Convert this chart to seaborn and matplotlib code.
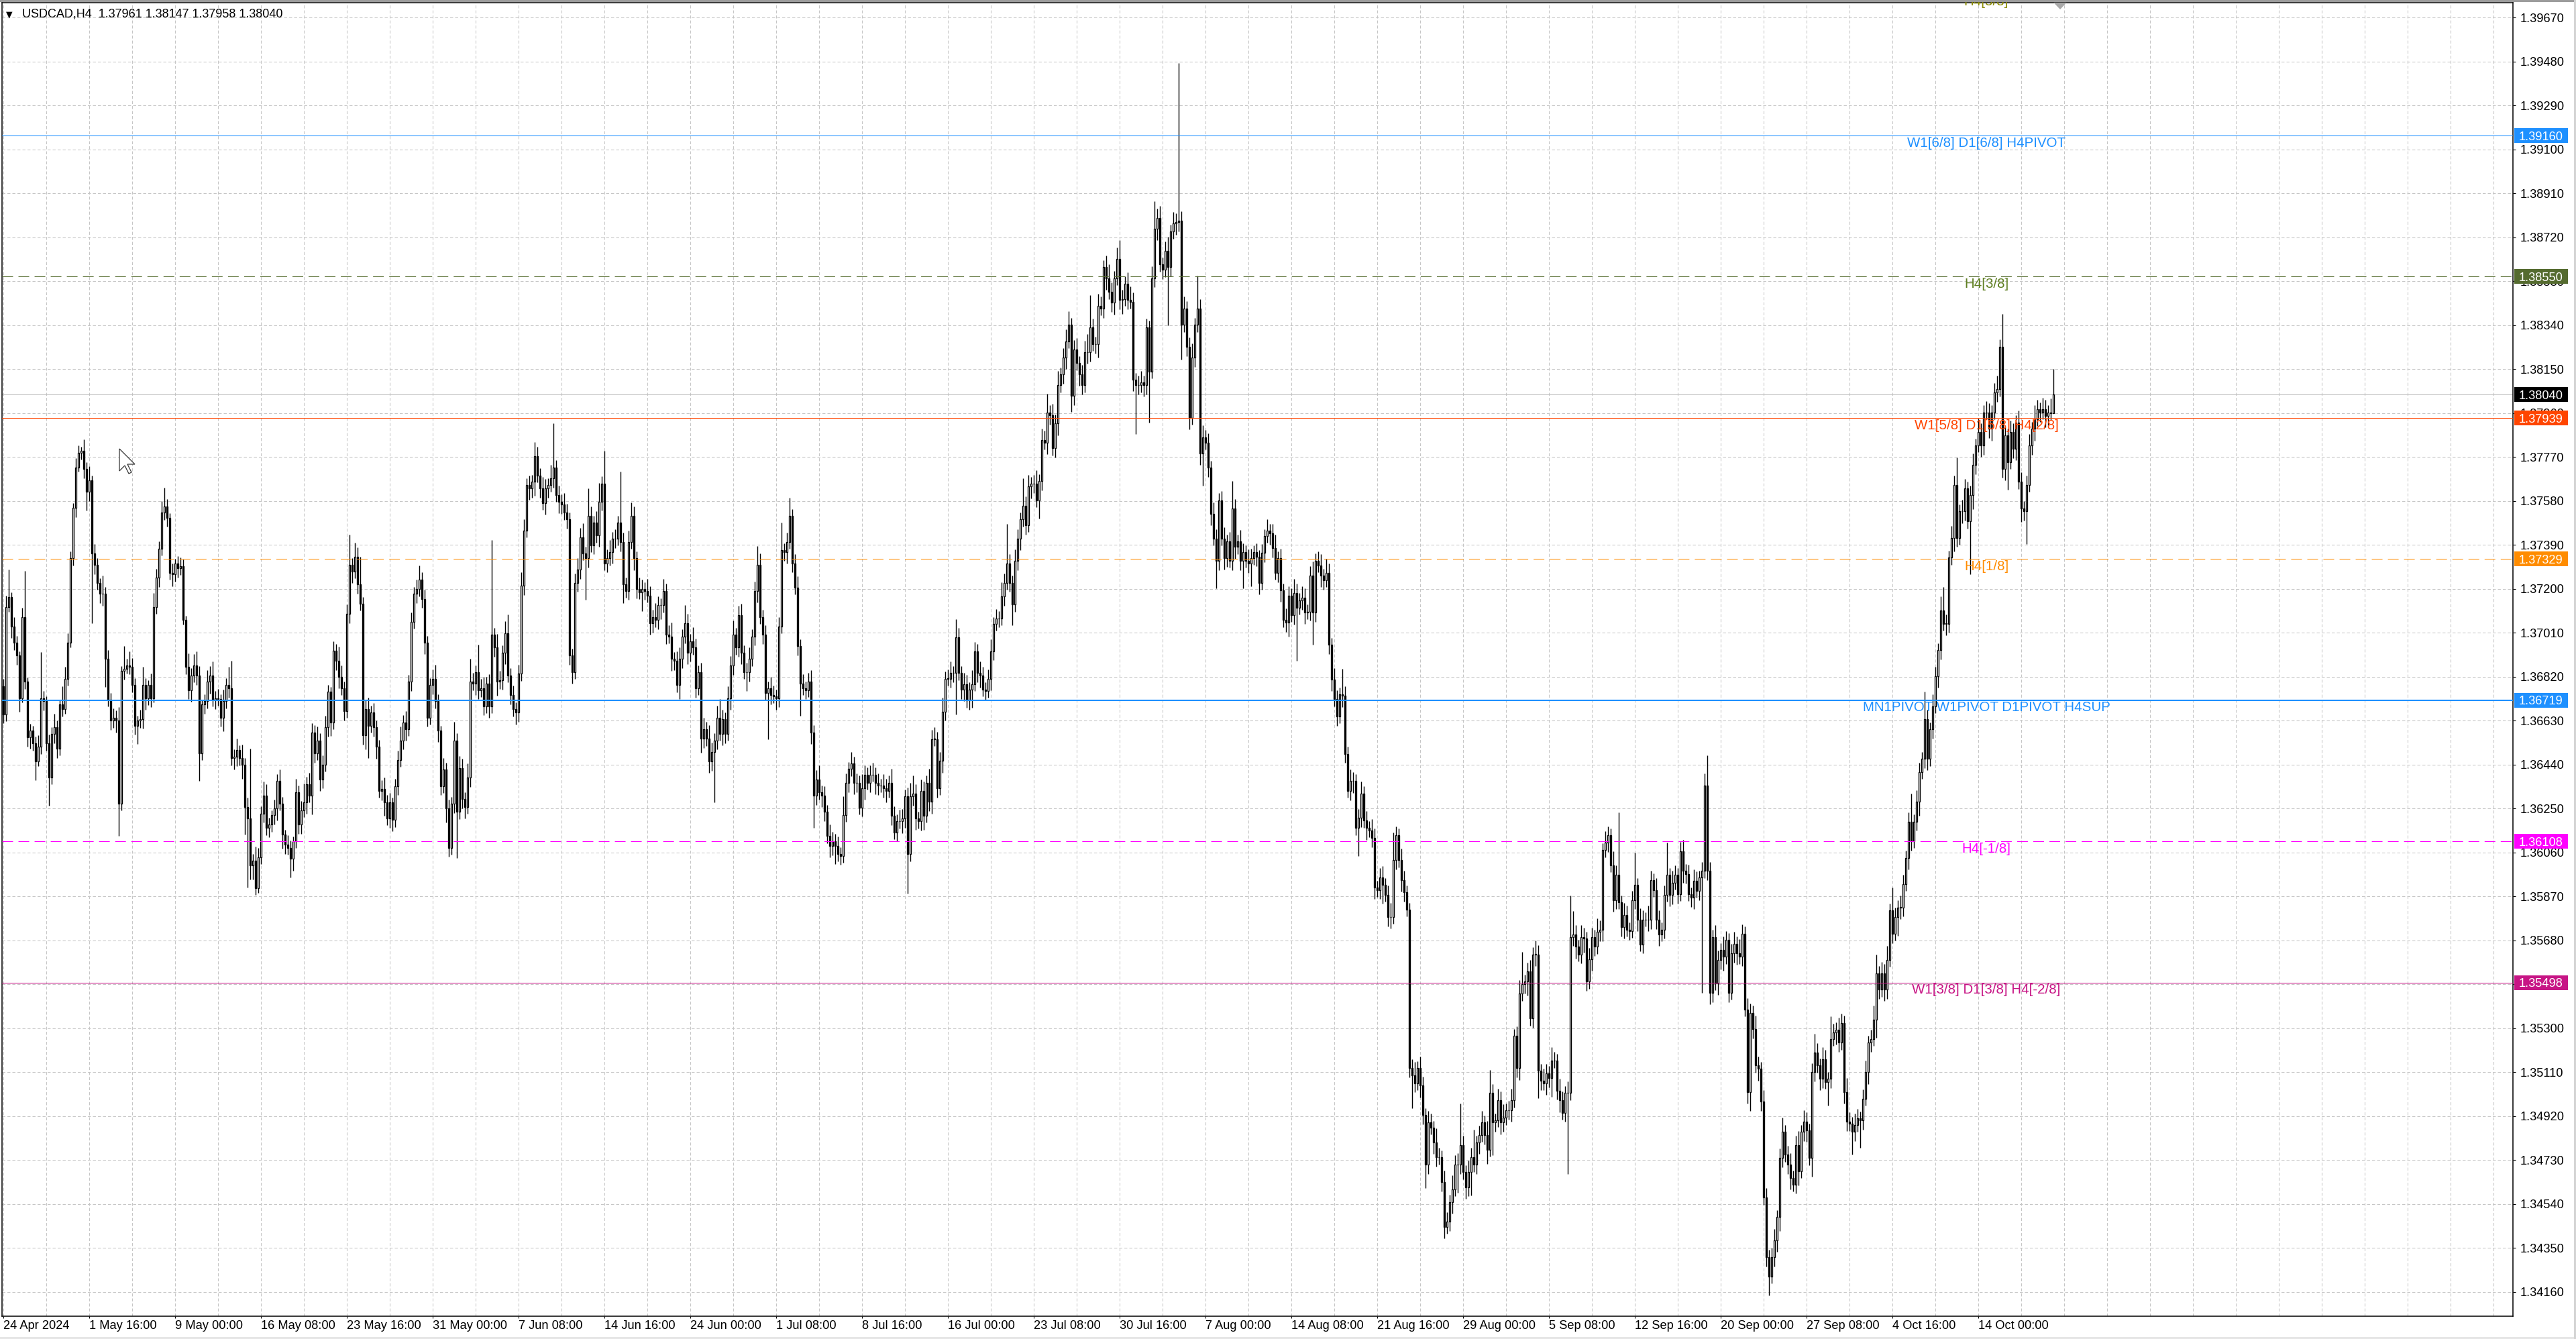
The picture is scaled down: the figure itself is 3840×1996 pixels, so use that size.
import numpy as np
import pandas as pd
import matplotlib
matplotlib.use("Agg")
import matplotlib.pyplot as plt
from matplotlib import font_manager as fm
from matplotlib.patches import Rectangle, Polygon
import seaborn as sns

# ==========================================
# DATA (USDCAD H4, prices as 1.3 + value/1e5, wicks in pips)
# ==========================================
first_open = 6780

# 24 Apr -> end of May
close_1 = [
    6658, 7122, 7164, 7037, 6967, 6911, 6728, 7079, 6798, 6559, 6587, 6531, 6454, 6517, 6728, 6714, 6531, 6384, 6573, 6601,
    6510, 6700, 6679, 6812, 6967, 7332, 7550, 7726, 7789, 7796, 7719, 7620, 7670, 7353, 7304, 7227, 7178, 7178, 6897, 6721,
    6630, 6644, 6630, 6271, 6847, 6854, 6869, 6862, 6784, 6609, 6630, 6637, 6784, 6728, 6784, 6728, 7122, 7248, 7375, 7529,
    7557, 7508, 7269, 7262, 7311, 7290, 7297, 7065, 6862, 6763, 6826, 6869, 6826, 6489, 6700, 6714, 6798, 6826, 6721, 6728,
    6725, 6644, 6714, 6784, 6770, 6468, 6475, 6503, 6468, 6440, 6257, 6208, 6004, 6025, 5906, 6039, 6229, 6306, 6166, 6180,
    6222, 6250, 6370, 6271, 6138, 6095, 6081, 6032, 6110, 6320, 6180, 6243, 6278, 6356, 6306, 6580, 6489, 6545, 6377, 6440,
    6601, 6756, 6623, 6932, 6890, 6819, 6770, 6672, 7093, 7304, 7276, 7339, 7220, 7136, 6566, 6679, 6609, 6665, 6601, 6517,
    6327, 6334, 6278, 6208, 6278, 6201, 6348, 6461, 6545, 6623, 6594, 6798, 7058, 7178, 7199, 7241, 7157, 6967, 6644,
]
wick_up_1 = [
    3, 5, 12, 2, 4, 3, 2, 4, 20, 2, 3, 2, 3, 5, 20, 3, 2, 4, 3, 6,
    3, 2, 8, 5, 4, 3, 2, 4, 3, 2, 5, 3, 6, 2, 4, 3, 2, 8, 3, 4,
    3, 4, 3, 6, 2, 10, 3, 6, 4, 3, 2, 4, 8, 3, 2, 5, 6, 4, 3, 5,
    8, 3, 2, 4, 2, 3, 4, 3, 2, 6, 3, 5, 6, 4, 2, 3, 5, 4, 6, 3,
    4, 2, 5, 3, 8, 12, 3, 5, 2, 6, 3, 4, 30, 3, 6, 4, 3, 6, 5, 3,
    2, 4, 3, 5, 3, 2, 4, 3, 2, 6, 3, 4, 8, 3, 5, 4, 3, 6, 3, 4,
    5, 3, 2, 4, 3, 6, 5, 3, 4, 13, 3, 6, 4, 12, 3, 4, 5, 3, 4, 3,
    3, 4, 5, 3, 4, 2, 3, 4, 6, 3, 5, 3, 4, 3, 4, 6, 3, 4, 3,
]
wick_dn_1 = [
    4, 3, 2, 5, 3, 4, 6, 2, 3, 4, 5, 3, 8, 2, 3, 4, 3, 12, 3, 4,
    4, 3, 3, 2, 3, 2, 3, 4, 2, 3, 4, 8, 4, 30, 4, 3, 4, 5, 12, 3,
    4, 3, 5, 14, 3, 4, 2, 3, 3, 4, 8, 3, 4, 5, 3, 4, 2, 3, 4, 3,
    3, 4, 3, 5, 3, 4, 3, 2, 3, 4, 5, 3, 4, 12, 3, 4, 3, 5, 3, 4,
    3, 4, 6, 3, 4, 3, 5, 4, 3, 6, 12, 30, 6, 6, 3, 2, 3, 4, 3, 4,
    3, 4, 5, 3, 6, 4, 3, 8, 5, 3, 4, 4, 3, 5, 3, 8, 4, 3, 5, 4,
    3, 4, 6, 3, 4, 5, 3, 4, 3, 4, 5, 3, 4, 3, 4, 6, 14, 3, 4, 5,
    3, 4, 6, 3, 4, 5, 3, 4, 3, 4, 5, 3, 4, 3, 4, 3, 4, 5, 4,
]

# June -> early July
close_2 = [
    6784, 6812, 6714, 6587, 6348, 6419, 6250, 6081, 6271, 6545, 6236, 6426, 6292, 6257, 6384, 6798, 6791, 6840, 6763, 6770,
    6693, 6791, 6693, 7002, 6946, 6798, 6805, 6925, 7009, 6826, 6742, 6679, 6665, 6833, 7213, 7452, 7649, 7635, 7663, 7775,
    7691, 7635, 7571, 7635, 7649, 7677, 7726, 7606, 7578, 7564, 7529, 7501, 6911, 6840, 7227, 7283, 7424, 7353, 7332, 7515,
    7389, 7487, 7431, 7578, 7656, 7311, 7332, 7360, 7417, 7417, 7487, 7403, 7220, 7192, 7403, 7515, 7332, 7199, 7185, 7199,
    7192, 7171, 7051, 7079, 7065, 7129, 7129, 7192, 7002, 6995, 6897, 6890, 6784, 6897, 6995, 7051, 6925, 6974, 6946, 6770,
    6840, 6552, 6594, 6552, 6454, 6496, 6545, 6644, 6573, 6637, 6573, 6728, 6869, 7002, 6946, 7086, 6925, 6840, 6840, 6897,
    6995, 7192, 7304, 7079, 7002, 6749, 6770, 6742, 6735, 6728, 7037, 7368, 7360, 7403, 7515, 7311, 7206, 6953, 6791, 6770,
    6763, 6798, 6580, 6306, 6377, 6320, 6306, 6236, 6131, 6089, 6110, 6089, 6053, 6046, 6222,
]
wick_up_2 = [
    3, 4, 6, 3, 2, 5, 3, 4, 3, 8, 3, 5, 4, 3, 6, 10, 4, 3, 12, 4,
    5, 3, 4, 41, 3, 6, 4, 3, 5, 8, 3, 4, 3, 4, 6, 5, 3, 4, 3, 6,
    4, 3, 5, 4, 3, 6, 19, 3, 4, 3, 5, 4, 3, 3, 4, 5, 4, 6, 3, 12,
    4, 3, 5, 8, 3, 14, 4, 5, 3, 4, 3, 22, 4, 3, 5, 6, 4, 3, 5, 4,
    3, 5, 4, 3, 6, 4, 3, 5, 3, 4, 6, 3, 4, 5, 3, 8, 4, 3, 6, 4,
    3, 4, 5, 3, 6, 4, 3, 5, 8, 4, 3, 5, 4, 6, 3, 4, 5, 3, 4, 5,
    3, 4, 8, 5, 3, 4, 3, 5, 4, 3, 4, 12, 3, 4, 8, 3, 4, 5, 3, 4,
    3, 4, 5, 3, 4, 6, 3, 4, 3, 5, 4, 3, 4, 3, 8,
]
wick_dn_2 = [
    3, 4, 3, 5, 4, 3, 6, 4, 3, 4, 20, 3, 4, 5, 3, 4, 3, 5, 4, 3,
    4, 3, 5, 3, 4, 6, 3, 4, 5, 3, 4, 3, 5, 4, 3, 4, 3, 5, 4, 6,
    3, 4, 3, 5, 4, 3, 4, 3, 5, 4, 3, 4, 4, 5, 3, 4, 4, 3, 18, 4,
    3, 4, 3, 5, 4, 3, 4, 3, 5, 4, 3, 4, 8, 3, 4, 3, 5, 4, 3, 8,
    4, 3, 5, 4, 3, 4, 6, 3, 4, 3, 5, 4, 3, 6, 4, 3, 5, 4, 3, 4,
    3, 6, 4, 3, 5, 4, 22, 4, 3, 5, 4, 3, 5, 4, 3, 4, 5, 3, 8, 4,
    3, 4, 5, 3, 4, 3, 20, 4, 3, 5, 4, 3, 4, 5, 3, 4, 3, 4, 14, 3,
    4, 3, 5, 14, 4, 3, 5, 4, 3, 5, 4, 8, 3, 4, 3,
]

# July -> early August (rally and spike)
close_3 = [
    6362, 6421, 6445, 6362, 6362, 6255, 6338, 6397, 6362, 6397, 6397, 6362, 6350, 6350, 6338, 6326, 6362, 6219, 6148, 6195,
    6195, 6207, 6302, 6053, 6302, 6314, 6207, 6195, 6326, 6219, 6362, 6279, 6551, 6551, 6338, 6456, 6670, 6812, 6812, 6836,
    6836, 6990, 6836, 6765, 6788, 6717, 6765, 6788, 6931, 6836, 6824, 6765, 6760, 6812, 6931, 7049, 7073, 7073, 7168, 7227,
    7310, 7227, 7132, 7322, 7417, 7500, 7559, 7476, 7642, 7654, 7654, 7583, 7666, 7844, 7832, 7963, 7951, 7808, 7915, 8081,
    8128, 8200, 8271, 8342, 8034, 8235, 8176, 8128, 8081, 8223, 8223, 8330, 8259, 8259, 8425, 8413, 8591, 8544, 8484, 8437,
    8544, 8627, 8449, 8453, 8520, 8449, 8442, 8105, 8081, 8081, 8093, 8081, 8330, 8140, 8544, 8757, 8805, 8603, 8579, 8662,
    8591, 8745, 8781, 8785, 8793, 8342, 8413, 8247, 7939, 8200, 8342, 8413, 7785, 7856, 7832, 7725, 7524, 7417, 7322, 7583,
    7417, 7334, 7405, 7322, 7547, 7381, 7405, 7322, 7358, 7322, 7310, 7334, 7358, 7339, 7227,
]
wick_up_3 = [
    4, 3, 5, 3, 4, 3, 6, 4, 3, 4, 5, 3, 4, 3, 5, 4, 3, 6, 4, 3,
    5, 4, 3, 4, 6, 8, 4, 3, 5, 4, 3, 6, 4, 5, 3, 4, 6, 3, 4, 5,
    3, 8, 4, 3, 5, 4, 3, 6, 4, 3, 5, 4, 3, 4, 5, 3, 4, 3, 6, 4,
    17, 4, 3, 5, 4, 3, 12, 4, 5, 3, 4, 6, 3, 5, 4, 8, 3, 5, 4, 6,
    3, 4, 5, 6, 3, 4, 5, 3, 4, 5, 8, 14, 4, 3, 5, 4, 3, 5, 6, 4,
    3, 5, 8, 4, 3, 5, 6, 4, 3, 4, 5, 3, 4, 3, 5, 12, 4, 5, 3, 4,
    6, 3, 5, 4, 68, 4, 5, 3, 4, 6, 3, 14, 4, 5, 3, 4, 3, 5, 4, 3,
    4, 5, 3, 4, 12, 4, 3, 5, 4, 3, 5, 4, 3, 4, 3,
]
wick_dn_3 = [
    3, 4, 3, 5, 4, 3, 4, 5, 3, 4, 3, 5, 4, 3, 4, 5, 3, 4, 3, 4,
    3, 5, 4, 17, 3, 4, 5, 3, 4, 6, 3, 4, 5, 3, 4, 3, 5, 4, 3, 4,
    4, 18, 3, 4, 5, 3, 4, 8, 3, 4, 5, 3, 4, 3, 5, 4, 3, 4, 3, 4,
    3, 4, 9, 3, 4, 5, 3, 4, 3, 5, 4, 3, 8, 4, 3, 5, 4, 3, 4, 5,
    3, 4, 5, 3, 7, 4, 3, 5, 4, 3, 5, 4, 3, 4, 6, 3, 4, 5, 3, 4,
    5, 3, 4, 6, 3, 4, 3, 5, 21, 4, 3, 5, 4, 22, 3, 4, 5, 3, 4, 3,
    25, 4, 3, 5, 4, 15, 3, 4, 5, 3, 4, 3, 5, 14, 3, 4, 5, 3, 12, 4,
    3, 5, 4, 3, 4, 5, 3, 4, 12, 3, 4, 10, 3, 4, 5,
]

# August sell-off -> mid September
close_4 = [
    7355, 7429, 7451, 7440, 7376, 7269, 7333, 7194, 7065, 7055, 7172, 7087, 7183, 7119, 7151, 7162, 7098, 7102, 7258, 7098,
    7322, 7301, 7258, 7237, 7269, 6958, 6808, 6723, 6648, 6744, 6738, 6487, 6327, 6369, 6369, 6166, 6209, 6316, 6198, 6166,
    6155, 6123, 5909, 5898, 5952, 5920, 5877, 5781, 5781, 6027, 6134, 6027, 5941, 5888, 5813, 5127, 5095, 5063, 5127, 5052,
    4924, 4710, 4892, 4870, 4806, 4742, 4742, 4635, 4442, 4464, 4549, 4603, 4710, 4710, 4795, 4678, 4613, 4678, 4742, 4710,
    4806, 4838, 4892, 4838, 4774, 5020, 4892, 4902, 4988, 4892, 4913, 4945, 4945, 4988, 5267, 5127, 5449, 5491, 5502, 5545,
    5342, 5620, 5620, 5117, 5074, 5063, 5106, 5085, 5159, 5159, 5031, 4988, 4935, 5020, 5020, 5695, 5706, 5652, 5620, 5695,
    5688, 5502, 5599, 5695, 5652, 5716, 5727, 6070, 6102, 6134, 6005, 5855, 5963, 5845, 5738, 5791, 5727, 5721, 5855, 5920,
    5770, 5663, 5770, 5770, 5770, 5941, 5898, 5770, 5706, 5727, 5877, 5963, 5877, 5930, 5963,
]
wick_up_4 = [
    4, 3, 5, 3, 4, 6, 3, 4, 3, 5, 4, 3, 6, 4, 3, 5, 4, 3, 4, 6,
    3, 4, 5, 3, 6, 4, 3, 5, 4, 3, 11, 4, 3, 5, 4, 3, 4, 5, 3, 4,
    3, 5, 4, 3, 4, 5, 3, 4, 6, 12, 4, 3, 5, 4, 3, 3, 4, 6, 3, 5,
    4, 3, 5, 4, 3, 6, 4, 3, 5, 4, 3, 6, 4, 5, 18, 4, 3, 5, 4, 12,
    3, 4, 5, 3, 6, 10, 4, 3, 5, 4, 6, 3, 4, 5, 3, 4, 6, 14, 3, 4,
    5, 3, 6, 4, 3, 5, 4, 3, 6, 4, 3, 5, 4, 3, 5, 18, 10, 4, 3, 5,
    4, 3, 5, 4, 3, 6, 4, 3, 5, 4, 3, 6, 4, 27, 3, 5, 4, 3, 4, 14,
    3, 5, 4, 3, 6, 4, 3, 5, 4, 3, 4, 14, 3, 5, 4,
]
wick_dn_4 = [
    3, 4, 3, 5, 4, 3, 4, 5, 3, 4, 6, 3, 4, 23, 3, 4, 5, 3, 4, 14,
    4, 3, 5, 4, 3, 4, 5, 3, 4, 3, 5, 4, 3, 4, 5, 3, 12, 4, 3, 5,
    3, 4, 5, 3, 4, 8, 3, 4, 5, 3, 4, 3, 5, 4, 3, 4, 14, 4, 3, 5,
    4, 10, 4, 3, 5, 4, 3, 4, 5, 3, 4, 5, 3, 12, 4, 3, 5, 4, 10, 3,
    4, 5, 3, 4, 6, 3, 14, 4, 3, 5, 4, 3, 4, 5, 3, 4, 5, 3, 4, 6,
    3, 4, 5, 12, 4, 3, 5, 4, 8, 3, 4, 5, 3, 4, 35, 3, 4, 5, 3, 4,
    6, 4, 3, 5, 4, 3, 4, 5, 3, 4, 3, 5, 4, 3, 4, 5, 3, 4, 3, 4,
    5, 3, 4, 3, 5, 4, 3, 4, 5, 3, 4, 3, 5, 4, 3,
]

# mid September -> 18 Oct
close_5 = [
    5880, 6066, 5980, 5966, 5880, 5866, 5937, 5894, 5952, 5980, 6351, 5980, 5453, 5695, 5495, 5595, 5638, 5609, 5681, 5453,
    5624, 5666, 5624, 5609, 5709, 5381, 5024, 5367, 5296, 5139, 5124, 4982, 4568, 4311, 4226, 4311, 4383, 4483, 4739, 4853,
    4753, 4711, 4654, 4625, 4796, 4682, 4853, 4896, 4859, 4739, 5110, 5196, 5139, 5082, 5167, 5067, 5082, 5253, 5281, 5295,
    5238, 5324, 5024, 4896, 4887, 4853, 4882, 4910, 4902, 4996, 5110, 5238, 5253, 5338, 5538, 5467, 5538, 5467, 5595, 5809,
    5709, 5781, 5823, 5823, 5923, 6037, 6194, 6109, 6194, 6280, 6408, 6465, 6636, 6465, 6593, 6693, 6822, 6936, 7107, 7050,
    7050, 7335, 7421, 7649, 7421, 7535, 7535, 7635, 7492, 7606, 7735, 7820, 7877, 7820, 7963, 7963, 7892, 7963, 8049, 8063,
    8248, 7720, 7863, 7749, 7877, 7806, 7920, 7663, 7549, 7535, 7649, 7820, 7892, 7934, 7977, 7963, 7977, 7948, 7963, 7961,
    8040,
]
wick_up_5 = [
    3, 4, 5, 3, 4, 3, 5, 4, 3, 4, 5, 13, 4, 3, 5, 4, 3, 6, 4, 3,
    4, 5, 3, 6, 4, 3, 5, 4, 3, 6, 4, 3, 5, 4, 3, 4, 5, 3, 4, 6,
    3, 4, 5, 3, 4, 6, 3, 5, 4, 3, 4, 8, 4, 3, 5, 4, 3, 10, 4, 3,
    5, 4, 3, 6, 4, 3, 5, 4, 3, 4, 5, 3, 4, 6, 8, 3, 5, 4, 6, 3,
    10, 4, 3, 5, 4, 3, 4, 12, 3, 5, 4, 3, 12, 4, 3, 5, 4, 3, 6, 10,
    4, 3, 5, 4, 12, 3, 5, 4, 3, 4, 5, 3, 6, 4, 3, 5, 4, 3, 4, 6,
    3, 14, 4, 3, 5, 4, 3, 5, 4, 3, 4, 5, 3, 6, 4, 3, 5, 4, 3, 6,
    11,
]
wick_dn_5 = [
    4, 3, 5, 4, 3, 4, 5, 3, 4, 50, 3, 4, 5, 4, 3, 5, 4, 6, 3, 4,
    3, 4, 5, 3, 4, 3, 5, 8, 4, 3, 5, 4, 3, 4, 8, 3, 4, 5, 6, 4,
    3, 4, 5, 3, 4, 6, 3, 4, 5, 3, 8, 4, 3, 5, 4, 3, 10, 4, 3, 5,
    4, 3, 5, 4, 3, 10, 4, 3, 12, 4, 3, 5, 4, 3, 8, 4, 3, 5, 4, 3,
    4, 3, 8, 5, 4, 3, 5, 4, 3, 4, 6, 3, 4, 5, 3, 4, 3, 5, 4, 3,
    5, 4, 3, 6, 4, 3, 5, 4, 3, 23, 6, 4, 3, 5, 4, 3, 4, 5, 3, 4,
    3, 4, 5, 12, 3, 4, 5, 3, 6, 4, 14, 3, 4, 5, 3, 4, 3, 5, 4, 3,
    0,
]

tick_labels = ["24 Apr 2024", "1 May 16:00", "9 May 00:00", "16 May 08:00", "23 May 16:00",
               "31 May 00:00", "7 Jun 08:00", "14 Jun 16:00", "24 Jun 00:00", "1 Jul 08:00",
               "8 Jul 16:00", "16 Jul 00:00", "23 Jul 08:00", "30 Jul 16:00", "7 Aug 00:00",
               "14 Aug 08:00", "21 Aug 16:00", "29 Aug 00:00", "5 Sep 08:00", "12 Sep 16:00",
               "20 Sep 00:00", "27 Sep 08:00", "4 Oct 16:00", "14 Oct 00:00"]
price_ticks = [1.34160 + 0.0019 * k for k in range(30)]

level_prices = [1.39771, 1.39160, 1.38550, 1.37939, 1.37329, 1.36719, 1.36108, 1.35498]
level_texts = ["H4[5/8]", "W1[6/8] D1[6/8] H4PIVOT", "H4[3/8]", "W1[5/8] D1[5/8] H4[2/8]",
               "H4[1/8]", "MN1PIVOT W1PIVOT D1PIVOT H4SUP", "H4[-1/8]", "W1[3/8] D1[3/8] H4[-2/8]"]
header = "USDCAD,H4  1.37961 1.38147 1.37958 1.38040"

# ==========================================
# STYLE
# ==========================================
level_line_colors = ["#808000", "#1E90FF", "#556B2F", "#FF4500", "#FF8C00", "#1E90FF", "#FF00FF", "#C71585"]
level_text_colors = ["#8B8B00", "#1E90FF", "#5F7F22", "#FF4500", "#FF8C00", "#1E90FF", "#FF00FF", "#C71585"]
level_tag_colors = [None, "#1E90FF", "#556B2F", "#FF4500", "#FF8C00", "#1E90FF", "#FF00FF", "#C71585"]
level_dashed = [True, False, True, False, True, False, True, False]
level_widths = [0.75, 0.75, 0.75, 0.75, 0.75, 1.5, 0.75, 0.75]

W, H = 3840, 1996
sns.set_theme(style="white")
installed = {f.name for f in fm.fontManager.ttflist}
if "Liberation Sans Narrow" in installed:
    narrow, shrink = "Liberation Sans Narrow", 1.0
else:
    narrow, shrink = "Liberation Sans", 0.82
plt.rcParams["font.family"] = ["Liberation Sans", "DejaVu Sans"]
plt.rcParams["lines.scale_dashes"] = False

# ==========================================
# BUILD CANDLES
# ==========================================
closes = np.array(close_1 + close_2 + close_3 + close_4 + close_5, dtype=float)
ups = np.array(wick_up_1 + wick_up_2 + wick_up_3 + wick_up_4 + wick_up_5, dtype=float)
dns = np.array(wick_dn_1 + wick_dn_2 + wick_dn_3 + wick_dn_4 + wick_dn_5, dtype=float)
n = min(len(closes), len(ups), len(dns))
closes, ups, dns = closes[:n], ups[:n], dns[:n]
opens = np.concatenate([[first_open], closes[:-1]])
df = pd.DataFrame({
    "bar": np.arange(n),
    "open": 1.3 + opens / 1e5,
    "close": 1.3 + closes / 1e5,
    "high": 1.3 + (np.maximum(opens, closes) + ups * 10) / 1e5,
    "low": 1.3 + (np.minimum(opens, closes) - dns * 10) / 1e5,
})
df["bottom"] = df[["open", "close"]].min(axis=1)
df["body"] = (df["close"] - df["open"]).abs().clip(lower=0.000004)
bull = df["close"] >= df["open"]

fig = plt.figure(figsize=(W / 100, H / 100), dpi=100)
fig.patch.set_facecolor("white")
ax = fig.add_axes([3 / W, 34 / H, 3743 / W, 1958 / H])
ax.set_facecolor("white")
ax.set_xlim(-0.5, 935.25)
ax.set_ylim(1.34055, 1.39735)
ax.set_axisbelow(True)

ax.vlines(df["bar"], df["low"], df["high"], color="black", lw=1.0, zorder=3)
ax.bar(df["bar"][bull], df["body"][bull], bottom=df["bottom"][bull], width=0.6,
       color="white", edgecolor="black", linewidth=0.95, zorder=4)
ax.bar(df["bar"][~bull], df["body"][~bull], bottom=df["bottom"][~bull], width=0.6,
       color="black", edgecolor="black", linewidth=0.95, zorder=4)

# ticks + grid
label_bars = [32 * k for k in range(len(tick_labels))]
grid_bars = [16 * k for k in range(59) if 16 * k not in label_bars]
ax.set_xticks(label_bars)
ax.set_xticklabels(tick_labels, ha="left")
ax.set_xticks(grid_bars, minor=True)
ax.set_yticks(price_ticks)
ax.set_yticklabels([f"{v:.5f}" for v in price_ticks])
ax.yaxis.tick_right()
grid_kw = dict(color="#C6C6C6", lw=0.75, ls=(0, (3.2, 2.2)))
ax.grid(True, which="both", axis="x", **grid_kw)
ax.grid(True, which="major", axis="y", **grid_kw)
ax.tick_params(axis="x", which="minor", length=0)
ax.tick_params(axis="x", which="major", length=2.5, width=0.8, pad=1.5, colors="black",
               labelsize=16 * shrink, bottom=True)
ax.tick_params(axis="y", which="major", length=3, width=0.8, pad=5, colors="black",
               labelsize=16 * shrink, right=True, left=False)
for lbl in ax.get_xticklabels() + ax.get_yticklabels():
    lbl.set_fontfamily(narrow)
for sp in ax.spines.values():
    sp.set_color("black")
    sp.set_linewidth(1.1)

# level lines, labels and price tags
label_bar = 739
ytr = ax.get_yaxis_transform()
half = 11 / (65.5 / 0.0019)
for price, text, lc, tc, tag, dashed, lw in zip(level_prices, level_texts, level_line_colors,
                                                 level_text_colors, level_tag_colors,
                                                 level_dashed, level_widths):
    ls = (0, (11.5, 5.8)) if dashed else "-"
    ax.axhline(price, color=lc, lw=lw, ls=ls, zorder=5)
    t = ax.annotate(text, xy=(label_bar, price), xytext=(0, -1.2), textcoords="offset points",
                    ha="center", va="top", color=tc, fontsize=18 * shrink, family=narrow,
                    zorder=6, annotation_clip=False)
    t.set_clip_on(True)
    if tag is not None:
        ax.add_patch(Rectangle((1.00053, price - half), 0.02137, 2 * half, transform=ytr,
                               facecolor=tag, edgecolor="none", clip_on=False, zorder=10))
        ax.text(1.00053 + 0.010685, price, f"{price:.5f}", transform=ytr, ha="center",
                va="center_baseline", color="white", fontsize=16 * shrink, family=narrow,
                zorder=11, clip_on=False)

# bid line and tag
bid = df["close"].iloc[-1]
ax.axhline(bid, color="#BDBDBD", lw=0.75, zorder=2.5)
ax.add_patch(Rectangle((1.00053, bid - half), 0.02137, 2 * half, transform=ytr,
                       facecolor="black", edgecolor="none", clip_on=False, zorder=10))
ax.text(1.00053 + 0.010685, bid, f"{bid:.5f}", transform=ytr, ha="center",
        va="center_baseline", color="white", fontsize=16 * shrink, family=narrow,
        zorder=11, clip_on=False)

# chart shift marker
xtr = ax.get_xaxis_transform()
shift_bar = n + 1.5
ax.add_patch(Polygon([(shift_bar - 2.4, 1.0), (shift_bar + 2.4, 1.0), (shift_bar, 1 - 10 / 1958)],
                     closed=True, transform=xtr, facecolor="#A8A8A8", edgecolor="none",
                     clip_on=False, zorder=7))

# header
fig.text(9 / W, 1 - 25 / H, "\u25bc", family="DejaVu Sans", fontsize=9, va="baseline", color="black")
fig.text(33 / W, 1 - 26 / H, header, family="Liberation Sans", fontsize=13, va="baseline", color="black")

# window frame bits
fig.add_artist(Rectangle((0, 1 - 3 / H), 1, 3 / H, transform=fig.transFigure,
                         facecolor="#9C9C9C", edgecolor="none"))
fig.add_artist(Rectangle((0, 0), 1, 3 / H, transform=fig.transFigure,
                         facecolor="#E6E6E6", edgecolor="none"))
fig.add_artist(Rectangle((1 - 3 / W, 0), 3 / W, 1, transform=fig.transFigure,
                         facecolor="#D4D4D4", edgecolor="none"))

# mouse cursor
tip = (178, 669)
arrow = [(0, 0), (0, 33), (8, 25), (14, 37), (18, 35), (12, 23), (23, 23)]
fig.add_artist(Polygon([((tip[0] + dx) / W, 1 - (tip[1] + dy) / H) for dx, dy in arrow],
                       closed=True, transform=fig.transFigure, facecolor="white",
                       edgecolor="#333333", linewidth=0.9, zorder=20))

fig.savefig("out.png", dpi=100)
